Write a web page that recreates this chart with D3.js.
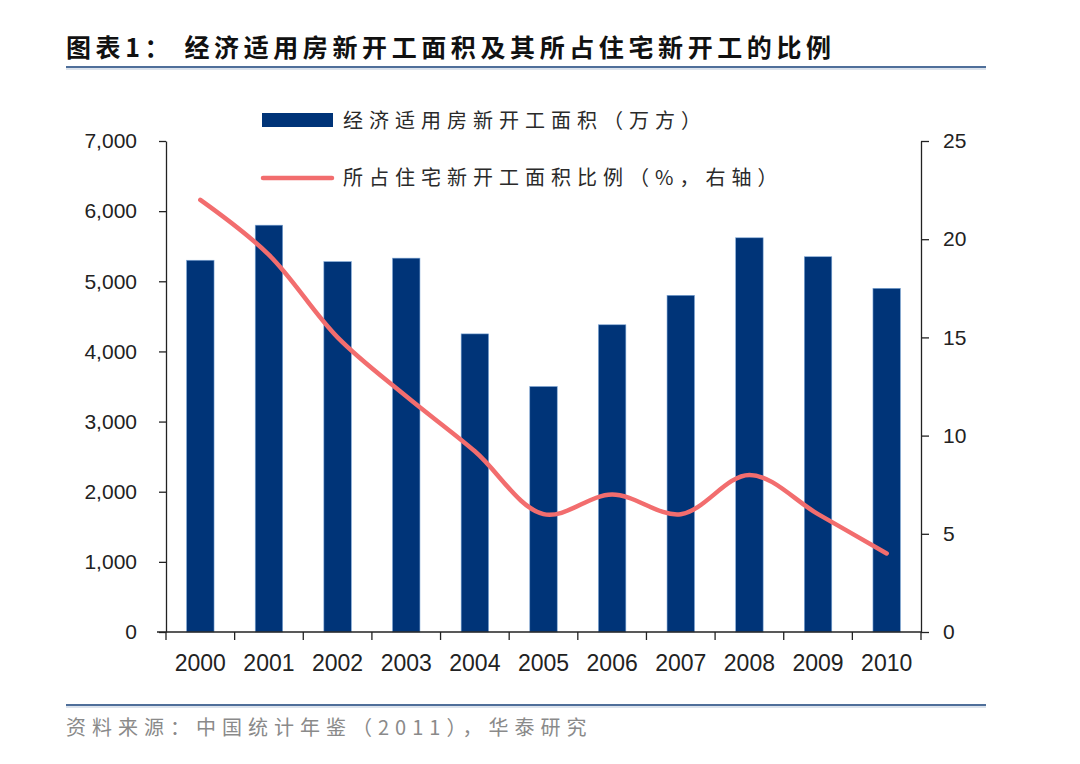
<!DOCTYPE html>
<html>
<head>
<meta charset="utf-8">
<script src="https://cdn.jsdelivr.net/npm/d3@7"></script>
<style>
  body { margin: 0; background: #fff; }
  svg { display: block; }
  .cjk { font-family: "Noto Sans CJK SC", sans-serif; }
  .num { font-family: "Liberation Sans", Arial, sans-serif; }
</style>
</head>
<body>
<svg id="chart" width="1080" height="764"></svg>
<script>
// data
const years = ['2000', '2001', '2002', '2003', '2004', '2005', '2006', '2007', '2008', '2009', '2010'];
const area = [5300, 5800, 5280, 5330, 4250, 3500, 4380, 4800, 5620, 5350, 4900]; // 万方
const share = [22, 19.2, 15, 12, 9.2, 6, 7, 6, 8, 6, 4]; // %
const leftTicks = [0, 1000, 2000, 3000, 4000, 5000, 6000, 7000];
const rightTicks = [0, 5, 10, 15, 20, 25];

const svg = d3.select('#chart');
const plotL = 166, plotR = 921, plotT = 141, plotB = 632;

const x = d3.scaleBand().domain(years).range([plotL, plotR]).paddingInner(0.6).paddingOuter(0.3);
const yL = d3.scaleLinear().domain([0, 7000]).range([plotB, plotT]);
const yR = d3.scaleLinear().domain([0, 25]).range([plotB, plotT]);

// title + rules
svg.append('text').attr('class', 'cjk').attr('x', 66).attr('y', 57)
  .attr('font-size', 25).attr('font-weight', 'bold').attr('fill', '#111')
  .attr('letter-spacing', 4.6)
  .text('图表1： 经济适用房新开工面积及其所占住宅新开工的比例');
[67, 705].forEach(yy => {
  svg.append('line').attr('x1', 66).attr('x2', 986).attr('y1', yy).attr('y2', yy)
    .attr('stroke', '#4f6f9a').attr('stroke-width', 2);
  svg.append('line').attr('x1', 66).attr('x2', 986).attr('y1', yy + 2).attr('y2', yy + 2)
    .attr('stroke', '#b9c7da').attr('stroke-width', 1);
});
svg.append('text').attr('class', 'cjk').attr('x', 66).attr('y', 735)
  .attr('font-size', 20).attr('fill', '#8a8a8a').attr('letter-spacing', 6)
  .text('资料来源：中国统计年鉴（2011），华泰研究');

// bars
svg.append('g').selectAll('rect').data(years).join('rect')
  .attr('x', d => x(d))
  .attr('y', (d, i) => yL(area[i]))
  .attr('width', x.bandwidth())
  .attr('height', (d, i) => plotB - yL(area[i]))
  .attr('fill', '#003478')
  .attr('stroke', '#7fa7d6').attr('stroke-width', 0.6);

// line
const line = d3.line()
  .x((d, i) => x(years[i]) + x.bandwidth() / 2)
  .y(d => yR(d))
  .curve(d3.curveCatmullRom.alpha(0.5));
svg.append('path').datum(share)
  .attr('d', line)
  .attr('fill', 'none')
  .attr('stroke', '#f26d6e')
  .attr('stroke-width', 4.5)
  .attr('stroke-linecap', 'round');

// axes
const axL = svg.append('g').attr('transform', `translate(${plotL},0)`)
  .call(d3.axisLeft(yL).tickValues(leftTicks).tickFormat(d3.format(',')).tickSize(7).tickSizeOuter(0).tickPadding(22));
const axR = svg.append('g').attr('transform', `translate(${plotR},0)`)
  .call(d3.axisRight(yR).tickValues(rightTicks).tickSize(8).tickSizeOuter(0).tickPadding(14));
[axL, axR].forEach(g => {
  g.selectAll('path, line').attr('stroke', '#222').attr('stroke-width', 1.3);
  g.selectAll('text').attr('class', 'num').attr('font-size', 21).attr('fill', '#222');
});

// x axis: ticks at category boundaries
const step = x.step();
svg.append('line').attr('x1', plotL - 9).attr('x2', plotR).attr('y1', plotB).attr('y2', plotB)
  .attr('stroke', '#222').attr('stroke-width', 1.3);
svg.append('g').selectAll('line').data(d3.range(years.length + 1)).join('line')
  .attr('x1', i => plotL + i * step).attr('x2', i => plotL + i * step)
  .attr('y1', plotB).attr('y2', plotB + 8)
  .attr('stroke', '#222').attr('stroke-width', 1.3);
svg.append('g').selectAll('text').data(years).join('text')
  .attr('class', 'num')
  .attr('x', d => x(d) + x.bandwidth() / 2)
  .attr('y', 671)
  .attr('text-anchor', 'middle')
  .attr('font-size', 23)
  .attr('fill', '#222')
  .text(d => d);

// legend
const lg = svg.append('g');
lg.append('rect').attr('x', 262).attr('y', 113).attr('width', 71).attr('height', 14).attr('fill', '#003478');
lg.append('text').attr('class', 'cjk').attr('x', 343).attr('y', 128)
  .attr('font-size', 20).attr('fill', '#2a2a2a').attr('letter-spacing', 6)
  .text('经济适用房新开工面积（万方）');
lg.append('line').attr('x1', 263).attr('x2', 332).attr('y1', 178).attr('y2', 178)
  .attr('stroke', '#f26d6e').attr('stroke-width', 4.5).attr('stroke-linecap', 'round');
lg.append('text').attr('class', 'cjk').attr('x', 343).attr('y', 185)
  .attr('font-size', 20).attr('fill', '#2a2a2a').attr('letter-spacing', 6)
  .text('所占住宅新开工面积比例（%，右轴）');
</script>
</body>
</html>
